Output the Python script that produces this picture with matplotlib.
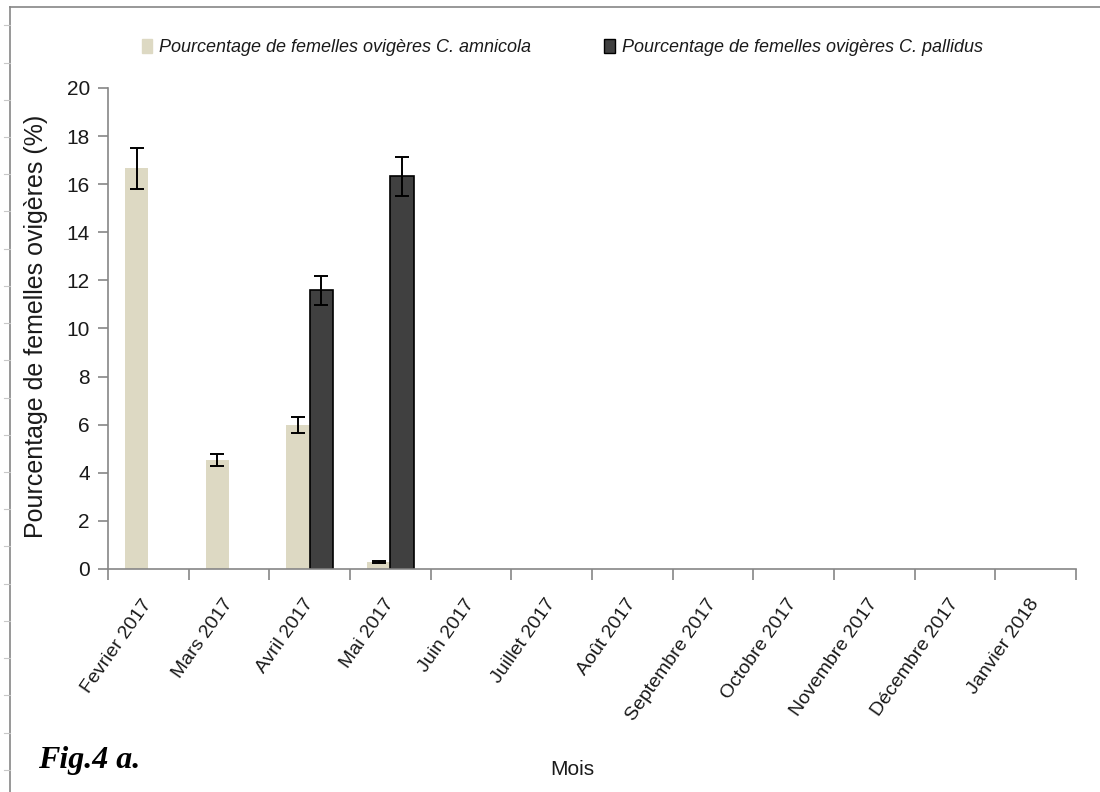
import numpy as np
import matplotlib.pyplot as plt
from matplotlib.patches import Patch
from matplotlib.lines import Line2D

plt.rcParams['font.family'] = ['Liberation Sans', 'DejaVu Sans']

mois = ["Fevrier 2017", "Mars 2017", "Avril 2017", "Mai 2017", "Juin 2017",
        "Juillet 2017", "Août 2017", "Septembre 2017", "Octobre 2017",
        "Novembre 2017", "Décembre 2017", "Janvier 2018"]

# % femelles ovigeres, 0 = pas de femelles ovigeres ce mois
amnicola = [16.67, 4.53, 5.98, 0.30, 0, 0, 0, 0, 0, 0, 0, 0]
amnicola_err = [0.85, 0.24, 0.32, 0.04, 0, 0, 0, 0, 0, 0, 0, 0]
pallidus = [0, 0, 11.58, 16.33, 0, 0, 0, 0, 0, 0, 0, 0]
pallidus_err = [0, 0, 0.59, 0.82, 0, 0, 0, 0, 0, 0, 0, 0]

c_amn = "#ddd9c3"
c_pal = "#404040"
grey = "#868686"
txt = "#1a1a1a"

fig = plt.figure(figsize=(11, 7.92), dpi=100)
ax = fig.add_axes([0.0982, 0.2816, 0.88, 0.6073])

x = np.arange(len(mois))
w = 0.29
ea = [e if e > 0 else np.nan for e in amnicola_err]
ep = [e if e > 0 else np.nan for e in pallidus_err]
ax.bar(x - w / 2, amnicola, w, color=c_amn, edgecolor=c_amn, linewidth=0)
ax.bar(x + w / 2, np.where(np.array(pallidus) > 0, pallidus, np.nan), w,
       color=c_pal, edgecolor="black", linewidth=1.2)
ax.errorbar(x - w / 2, amnicola, yerr=ea, fmt="none", ecolor="black",
            elinewidth=1.4, capsize=5, capthick=1.4)
ax.errorbar(x + w / 2, pallidus, yerr=ep, fmt="none", ecolor="black",
            elinewidth=1.4, capsize=5, capthick=1.4)

ax.set_xlim(-0.5, len(mois) - 0.5)
ax.set_ylim(0, 20)
ax.set_yticks(range(0, 21, 2))
ax.set_xticks(np.arange(-0.5, len(mois), 1.0))
ax.set_xticklabels([])
ax.set_xticks(x, minor=True)
ax.set_xticklabels(mois, minor=True, rotation=55, ha="right", va="center",
                   rotation_mode="anchor", fontsize=14, color=txt)
ax.tick_params(axis="x", which="minor", length=0, pad=23)
ax.tick_params(axis="x", which="major", length=8, color=grey, width=1.2)
ax.tick_params(axis="y", length=7, color=grey, width=1.2,
               labelsize=15, labelcolor=txt, pad=6)

for s in ["top", "right"]:
    ax.spines[s].set_visible(False)
for s in ["left", "bottom"]:
    ax.spines[s].set_color(grey)
    ax.spines[s].set_linewidth(1.2)

ax.set_ylabel("Pourcentage de femelles ovigères (%)", fontsize=18, color=txt)
ax.yaxis.set_label_coords(-0.062, 0.505)
fig.text(0.52, 0.0215, "Mois", fontsize=15, color=txt, ha="center",
         va="baseline")
fig.text(0.035, 0.030, "Fig.4 a.", fontsize=23, fontweight="bold",
         fontstyle="italic", va="baseline",
         family=["Liberation Serif", "DejaVu Serif"])

handles = [Patch(facecolor=c_amn, edgecolor=c_amn),
           Patch(facecolor=c_pal, edgecolor="black")]
labels = ["Pourcentage de femelles ovigères C. amnicola",
          "Pourcentage de femelles ovigères C. pallidus"]
fig.legend(handles, labels, loc="center", bbox_to_anchor=(0.511, 0.940),
           ncol=2, frameon=False, handlelength=0.6, handleheight=0.83,
           handletextpad=0.39, columnspacing=4.0,
           prop={"size": 13, "style": "italic"}, labelcolor=txt)

# cadre gauche et haut
fig.add_artist(Line2D([0.009, 0.009], [0, 0.991], color=grey, lw=1.2))
fig.add_artist(Line2D([0.009, 1], [0.991, 0.991], color=grey, lw=1.2))
for yy in np.arange(0.968, 0, -0.047):
    fig.add_artist(Line2D([0.004, 0.009], [yy, yy], color="#c8c8c8", lw=0.8))

fig.savefig("out.png", dpi=100)
